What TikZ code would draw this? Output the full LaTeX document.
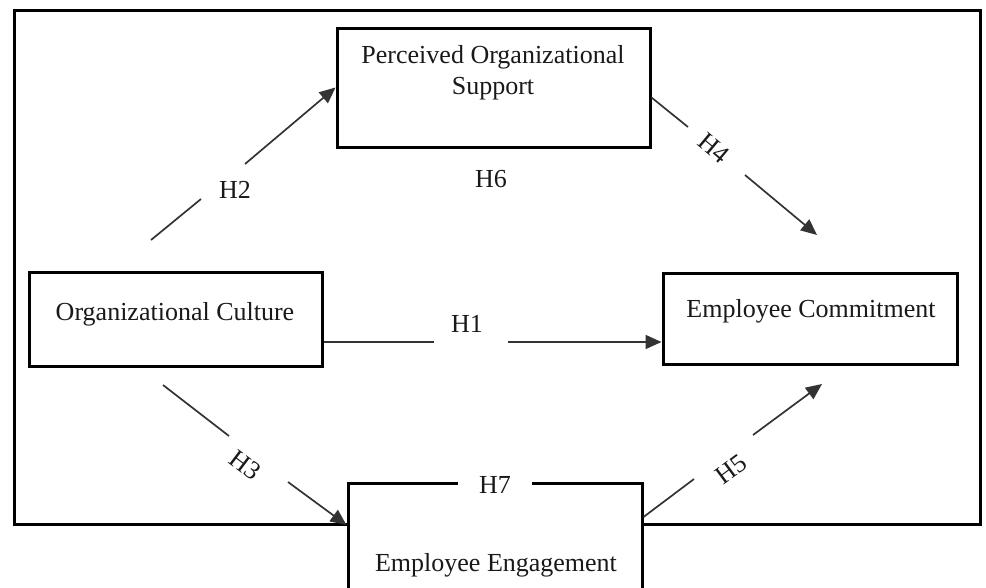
\documentclass[tikz,border=0pt]{standalone}
\usepackage{fontspec}
\setmainfont{Liberation Serif}
\usetikzlibrary{arrows.meta}
\begin{document}
\begin{tikzpicture}[x=1pt,y=-1pt,
  box/.style={draw=black, line width=3pt, rectangle, inner sep=0pt},
  txt/.style={font=\fontsize{26}{31}\selectfont, text=black!90, inner sep=0pt},
  lbl/.style={font=\fontsize{26}{31}\selectfont, text=black!90, inner sep=0pt},
  link/.style={line width=1.7pt, draw=black!80},
  tip/.style={-{Triangle[length=16pt,width=14pt]}}]
\useasboundingbox (0,0) rectangle (986,587);
\clip (0,0) rectangle (986,587);
% outer frame
\node[box, line width=3pt, minimum width=966pt, minimum height=514pt] (frame) at (497,267) {};
% boxes
\node[box, minimum width=313pt, minimum height=119pt] (pos) at (493.5,87.5) {};
\node[box, minimum width=293pt, minimum height=94pt] (oc) at (175.5,319) {};
\node[box, minimum width=294pt, minimum height=91pt] (ec) at (810,318.5) {};
\node[box, fill=white, minimum width=294pt, minimum height=140pt] (ee) at (495,553) {};
% box texts
\node[txt, anchor=base] (ocT) at (175,320) {Organizational Culture};
\node[txt, anchor=base, align=center] (posT) at (493,94) {Perceived Organizational\\Support};
\node[txt, anchor=base] (ecT) at (811,317) {Employee Commitment};
\node[txt, anchor=base] (eeT) at (496,571) {Employee Engagement};
% labels
\node[lbl, anchor=base] (h1) at (467,332) {H1};
\node[lbl] (h2) at (235,190) {H2};
\node[lbl, rotate=-37] (h3) at (245,465) {H3};
\node[lbl, rotate=-40] (h4) at (714,148) {H4};
\node[lbl, rotate=36.5] (h5) at (731,469) {H5};
\node[lbl, anchor=base] (h6) at (491,187) {H6};
\node[lbl, anchor=base, fill=white, inner xsep=21pt, inner ysep=2pt] (h7) at (495,493) {H7};
% coordinates
\coordinate (h1a) at (434,342);
\coordinate (h1b) at (508,342);
\coordinate (h2s) at (151,240);
\coordinate (h2a) at (201,199);
\coordinate (h2b) at (245,164);
\coordinate (h4a) at (688,127);
\coordinate (h4b) at (745,175);
\coordinate (h4e) at (817,235);
\coordinate (h3s) at (163,385);
\coordinate (h3a) at (229,436);
\coordinate (h3b) at (288,482);
\coordinate (h3e) at (348,525);
\coordinate (h5s) at (642,517);
\coordinate (h5a) at (694,479);
\coordinate (h5b) at (753,435);
\coordinate (h5e) at (822,384);
% connectors
\draw[link] ([yshift=-23pt]oc.east) -- (h1a);
\draw[link,tip] (h1b) -- (ec.west |- h1b);
\draw[link] (h2s) -- (h2a);
\draw[link,tip] (h2b) -- (pos.west);
\draw[link] ([yshift=-10pt]pos.east) -- (h4a);
\draw[link,tip] (h4b) -- (h4e);
\draw[link] (h3s) -- (h3a);
\draw[link,tip] (h3b) -- (ee.west |- h3e);
\draw[link] (ee.east |- h5s) -- (h5a);
\draw[link,tip] (h5b) -- (h5e);
\end{tikzpicture}
\end{document}
